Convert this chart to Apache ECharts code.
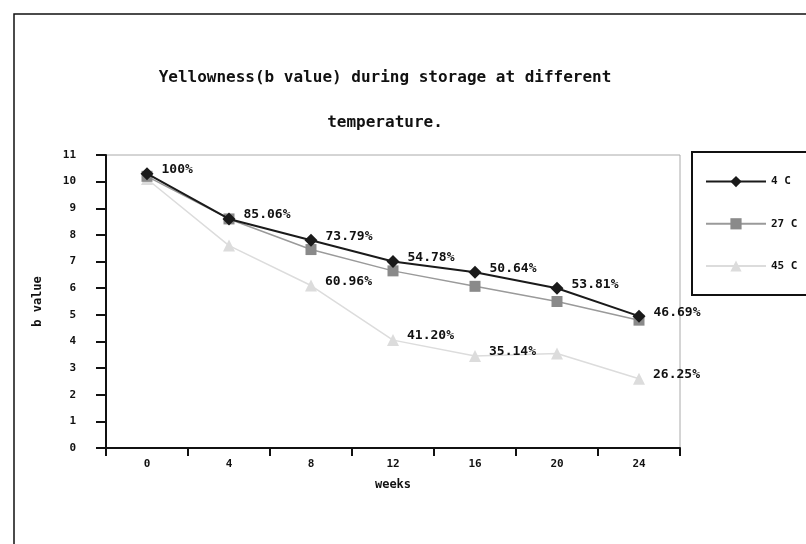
<!DOCTYPE html>
<html>
<head>
<meta charset="utf-8">
<script src="https://cdn.jsdelivr.net/npm/echarts@6/dist/echarts.min.js"></script>
<style>html,body{margin:0;padding:0;background:#fff;}#c{width:806px;height:544px;}</style>
</head>
<body>
<div id="c"></div>
<script>
const weeks = ['0', '4', '8', '12', '16', '20', '24'];
const seriesNames = ['4 C', '27 C', '45 C'];
const values4C = [10.3, 8.6, 7.8, 7.0, 6.6, 6.0, 4.95];
const values27C = [10.2, 8.6, 7.45, 6.65, 6.07, 5.5, 4.8];
const values45C = [10.1, 7.6, 6.1, 4.05, 3.45, 3.55, 2.6];
const labels4C = ['100%', '85.06%', '73.79%', '54.78%', '50.64%', '53.81%', '46.69%'];
const labels45C = ['', '', '60.96%', '41.20%', '35.14%', '', '26.25%'];
const titleLines = ['Yellowness(b value) during storage at different', 'temperature.'];

const MONO = '"DejaVu Sans Mono", monospace';
const labelStyle = {fontFamily: MONO, fontWeight: 'bold', fontSize: 13, color: '#111'};

function withLabels(vals, labs, offset) {
  return vals.map((v, i) => {
    if (!labs[i]) return v;
    return {value: v, label: Object.assign({show: true, position: 'right', distance: 8, offset: offset, formatter: labs[i]}, labelStyle)};
  });
}

const chart = echarts.init(document.getElementById('c'), null, {renderer: 'canvas'});
chart.setOption({
  animation: false,
  backgroundColor: '#fff',
  title: {
    text: titleLines.join('\n'),
    left: 380, top: 50, textAlign: 'center',
    textStyle: {fontFamily: MONO, fontWeight: 'bold', fontSize: 16, lineHeight: 45, color: '#111'}
  },
  graphic: [
    {type: 'rect', shape: {x: 14, y: 14, width: 820, height: 560}, style: {fill: 'none', stroke: '#111', lineWidth: 1.5}, silent: true},
    {type: 'rect', shape: {x: 692, y: 152, width: 130, height: 143}, style: {fill: 'none', stroke: '#111', lineWidth: 2}, silent: true}
  ],
  legend: {
    orient: 'vertical', left: 700, top: 171, itemWidth: 60, itemHeight: 14, itemGap: 31,
    textStyle: {fontFamily: MONO, fontWeight: 'bold', fontSize: 11, color: '#111'},
    data: seriesNames
  },
  grid: {left: 106, right: 126, top: 155, bottom: 96, show: true, borderColor: '#aaa', borderWidth: 1},
  xAxis: {
    type: 'category', data: weeks, boundaryGap: true,
    name: 'weeks', nameLocation: 'middle', nameGap: 31,
    nameTextStyle: {fontFamily: MONO, fontWeight: 'bold', fontSize: 12, color: '#111'},
    axisLine: {lineStyle: {color: '#111', width: 2}},
    axisTick: {show: true, length: 8, lineStyle: {color: '#111', width: 2}},
    axisLabel: {fontFamily: MONO, fontWeight: 'bold', fontSize: 11, color: '#111', margin: 11},
    splitLine: {show: false}
  },
  yAxis: {
    type: 'value', min: 0, max: 11, interval: 1,
    name: 'b value', nameLocation: 'middle', nameGap: 62, nameRotate: 90,
    nameTextStyle: {fontFamily: MONO, fontWeight: 'bold', fontSize: 12, color: '#111'},
    axisLine: {show: true, lineStyle: {color: '#111', width: 2}},
    axisTick: {show: true, length: 10, lineStyle: {color: '#111', width: 2}},
    axisLabel: {fontFamily: MONO, fontWeight: 'bold', fontSize: 11, color: '#111', margin: 30},
    splitLine: {show: false}
  },
  series: [
    {name: seriesNames[0], type: 'line', data: withLabels(values4C, labels4C, [0, -4]),
     symbol: 'diamond', symbolSize: 13, z: 5,
     lineStyle: {color: '#1a1a1a', width: 2}, itemStyle: {color: '#1a1a1a'}},
    {name: seriesNames[1], type: 'line', data: values27C,
     symbol: 'rect', symbolSize: 11, z: 4,
     lineStyle: {color: '#9a9a9a', width: 1.5}, itemStyle: {color: '#8a8a8a'}},
    {name: seriesNames[2], type: 'line', data: withLabels(values45C, labels45C, [0, -4]),
     symbol: 'triangle', symbolSize: 12, z: 3,
     lineStyle: {color: '#dcdcdc', width: 1.5}, itemStyle: {color: '#dcdcdc'}}
  ]
});
</script>
</body>
</html>
